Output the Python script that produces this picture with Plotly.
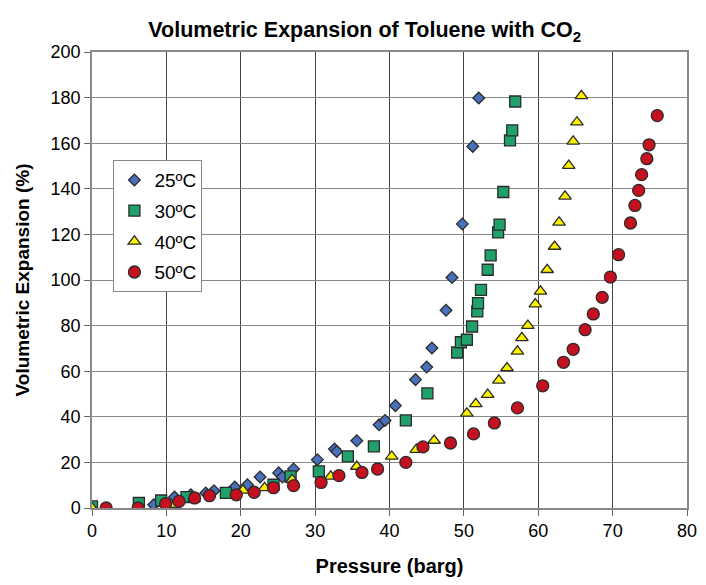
import plotly.graph_objects as go

# 25 C (diamonds)
p25 = [8.3, 11.1, 13.3, 15.3, 16.4, 19.2, 20.9, 22.6, 25.1, 25.6, 27.1, 30.3, 32.6, 32.9,
       35.6, 38.6, 39.4, 40.8, 43.5, 45.0, 45.7, 47.6, 48.4, 49.8, 51.2, 52.0]
v25 = [1.4, 4.8, 5.8, 6.6, 7.6, 9.2, 10.2, 13.6, 15.4, 13.6, 17.1, 21.2, 25.9, 24.8,
       29.5, 36.5, 38.4, 44.9, 56.3, 61.8, 70.2, 86.7, 101.1, 124.6, 158.6, 179.8]

# 30 C (squares)
p30 = [0, 6.3, 9.3, 12.7, 18.0, 24.4, 26.7, 30.5, 34.4, 37.9, 42.2, 45.1, 49.1, 49.6,
       50.4, 51.1, 51.8, 51.9, 52.3, 53.2, 53.6, 54.6, 54.8, 55.3, 56.2, 56.5, 56.9]
v30 = [0.7, 2.2, 3.3, 4.8, 6.6, 10.2, 13.9, 16.1, 22.6, 27.0, 38.4, 50.3, 68.2, 72.7,
       73.8, 79.6, 86.2, 89.9, 95.7, 104.5, 110.8, 120.9, 124.3, 138.6, 161.2, 165.6, 178.3]

# 40 C (triangles)
p40 = [0, 11.1, 13.7, 20.3, 23.2, 26.9, 32.1, 35.6, 40.3, 43.6, 46.0, 50.4, 51.6, 53.2,
       54.7, 55.8, 57.2, 57.8, 58.6, 59.6, 60.3, 61.2, 62.2, 62.8, 63.6, 64.1, 64.7, 65.2, 65.8]
v40 = [0, 1.5, 3.9, 7.7, 8.8, 12.4, 13.9, 18.2, 22.6, 25.6, 29.6, 41.5, 45.7, 49.7,
       56.0, 61.4, 68.7, 74.6, 80.0, 89.4, 95.0, 104.5, 114.7, 125.3, 136.7, 150.2, 160.8, 169.2, 180.8]

# 50 C (circles)
p50 = [1.9, 6.2, 9.9, 11.7, 13.8, 15.8, 19.4, 21.8, 24.4, 27.1, 30.8, 33.2, 36.3, 38.4,
       42.2, 44.5, 48.2, 51.3, 54.1, 57.2, 60.6, 63.4, 64.7, 66.3, 67.4, 68.6, 69.7, 70.8,
       72.4, 73.0, 73.5, 73.9, 74.6, 74.9, 76.0]
v50 = [0, 0, 1.9, 2.9, 4.4, 5.4, 5.8, 6.9, 8.9, 9.8, 11.2, 14.2, 15.6, 17.1,
       20.0, 26.8, 28.5, 32.5, 37.3, 43.9, 53.6, 63.9, 69.6, 78.2, 85.1, 92.4, 101.3, 111.1,
       125.0, 132.7, 139.3, 146.2, 153.2, 159.3, 172.1]

series = [
    ("25ºC", p25, v25, "diamond", "#4a6fbb", 9),
    ("30ºC", p30, v30, "square", "#20a06a", 11),
    ("40ºC", p40, v40, "triangle-up", "#fff200", 11),
    ("50ºC", p50, v50, "circle", "#c4101f", 12),
]

fig = go.Figure()
for name, xs, ys, sym, col, sz in series:
    fig.add_trace(go.Scatter(
        x=xs, y=ys, mode="markers", name=name, legendgroup=name,
        marker=dict(symbol=sym, color=col, size=sz,
                    line=dict(color="#2b2b2b", width=1.3)),
    ))

font = "Liberation Sans, Arial, sans-serif"
# page body adds an 8px margin all round, so keep the figure inside the window
fig.update_layout(
    width=690, height=569,
    margin=dict(l=84, r=11, t=44, b=69),
    paper_bgcolor="white", plot_bgcolor="white",
    font=dict(family=font, size=18, color="black"),
    title=dict(text="<b>Volumetric Expansion of Toluene with CO<sub>2</sub></b>",
               x=0.517, xanchor="center", y=0.962, yanchor="middle",
               font=dict(size=21.5)),
    xaxis=dict(range=[0, 80], dtick=10, showgrid=True, gridcolor="#444444", gridwidth=1,
               zeroline=False, showline=True, linecolor="#888888", linewidth=1.5, mirror=True,
               ticks="outside", ticklen=6, tickcolor="#666666", ticklabeloverflow="allow",
               automargin=False,
               title=dict(text="<b>Pressure (barg)</b>", font=dict(size=20), standoff=20)),
    yaxis=dict(range=[0, 200], dtick=20, showgrid=True, gridcolor="#888888", gridwidth=1,
               zeroline=False, showline=True, linecolor="#888888", linewidth=1.5, mirror=True,
               ticks="outside", ticklen=6, tickcolor="#666666", automargin=False,
               title=dict(text="<b>Volumetric Expansion (%)</b>", font=dict(size=19), standoff=16)),
    legend=dict(x=0.036, y=0.763, xanchor="left", yanchor="top",
                bgcolor="white", bordercolor="#888888", borderwidth=1,
                font=dict(size=19), tracegroupgap=3, itemwidth=30),
)

fig.write_html("out.html")
